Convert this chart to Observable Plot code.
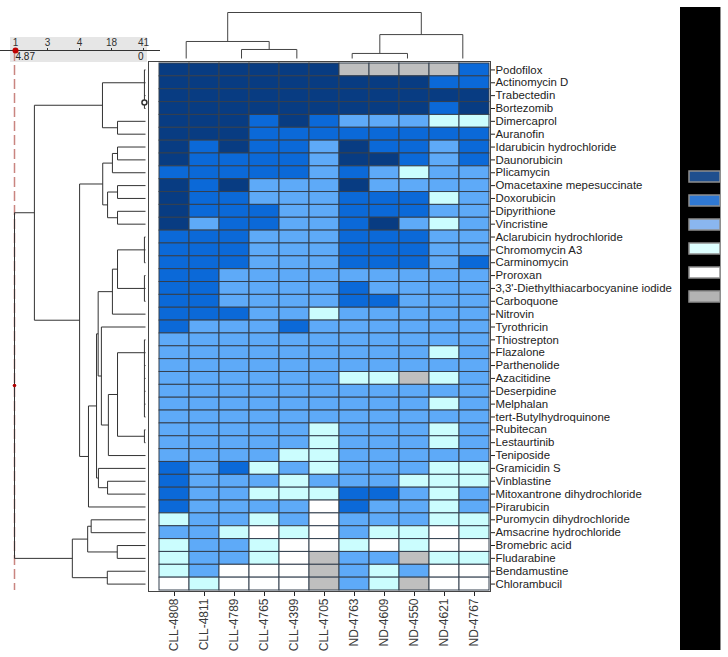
<!DOCTYPE html>
<html><head><meta charset="utf-8">
<script src="https://cdn.jsdelivr.net/npm/d3@7"></script>
<script src="https://cdn.jsdelivr.net/npm/@observablehq/plot@0.6"></script>
<style>
body{margin:0;background:#fff;}
#chart{position:relative;width:728px;height:657px;overflow:hidden;font-family:"Liberation Sans",Arial,sans-serif;}
#chart svg{position:absolute;left:0;top:0;}
#panel{position:absolute;left:680px;top:7px;width:40px;height:643px;background:#000;border-right:1px solid #8c8c8c;}
#scalebox{position:absolute;left:10px;top:37px;width:137px;height:25px;background:#e6e6e6;}
#chart svg.heatsvg g[aria-label^="x-axis"] text{font-size:12px;fill:#3a3a3a;}
</style></head><body>
<div id="chart"><div id="panel"></div><div id="scalebox"></div></div>
<script>
// ---------- data ----------
const samples = ["CLL-4808","CLL-4811","CLL-4789","CLL-4765","CLL-4399","CLL-4705","ND-4763","ND-4609","ND-4550","ND-4621","ND-4767"];
const drugs = ["Podofilox","Actinomycin D","Trabectedin","Bortezomib","Dimercaprol","Auranofin","Idarubicin hydrochloride","Daunorubicin","Plicamycin","Omacetaxine mepesuccinate","Doxorubicin","Dipyrithione","Vincristine","Aclarubicin hydrochloride","Chromomycin A3","Carminomycin","Proroxan","3,3'-Diethylthiacarbocyanine iodide","Carboquone","Nitrovin","Tyrothricin","Thiostrepton","Flazalone","Parthenolide","Azacitidine","Deserpidine","Melphalan","tert-Butylhydroquinone","Rubitecan","Lestaurtinib","Teniposide","Gramicidin S","Vinblastine","Mitoxantrone dihydrochloride","Pirarubicin","Puromycin dihydrochloride","Amsacrine hydrochloride","Bromebric acid","Fludarabine","Bendamustine","Chlorambucil"];
// response class per drug (row) and sample (column): D dark, M medium, L light, V very light, W white, G missing
const responseRows = [
"DDDDDDGGGGM","DDDDDDDDDMM","DDDDDDDDDDD","DDDDDDDDDMD","DDDMDMLLLVV","DDDMMMMMMMM",
"DMDMMLDMMLM","DMMMMLDDMLM","MMMMMLMLVLL","DMDLLLDLLLL","DMMLLLMMMVL","DMMMLLMMMLL",
"DLMMLLMDLVL","MMMLLLMMMLL","MMMLLLMMMLL","MMMLLLMMMLM","MMLLLLLLLLL","MMLLLLMLLLL",
"MMLLLLMMLLL","MMMLLVLLLLL","MLLLMLLLLLL","LLLLLLLLLLL","LLLLLLLLLVL","LLLLLLLLLLL",
"LLLLLLVVGVL","LLLLLLLLLLL","LLLLLLLLLVL","LLLLLLLLLLL","LLLLLVLLLVL","LLLLLVLLLVL",
"LLLLVVLLLLL","MLMVLVLLLVV","MLLLVLLLVVV","MLLVVVMMLVL","MLLLLWMLLVL","VLLVLWLLLVV",
"LLVWVWLVVWV","VLLVWWVWVWW","VLLVWGLLGVV","VLWWWGLVLWW","WVWWWGLVGWW"];
const levels = ["D","M","L","V","W","G"];
const levelColors = ["#083c82","#0b69d8","#5eaaf8","#cbfdfe","#ffffff","#bfbfbf"];
const legendColors = ["#1f4f8e","#2f78d2","#8ab6ef","#ddfefe","#ffffff","#b3b3b3"];

// row dendrogram: flat clusters [id, members, height, anchor] and merges [id, a, b, height]
const rowFlat = [
 ["A", ["Podofilox","Actinomycin D","Trabectedin","Bortezomib"], 0.04, "Actinomycin D"],
 ["I", ["Aclarubicin hydrochloride","Chromomycin A3","Carminomycin"], 0.04, "Chromomycin A3"],
 ["J", ["Proroxan","3,3'-Diethylthiacarbocyanine iodide","Carboquone"], 0.04, "3,3'-Diethylthiacarbocyanine iodide"],
 ["M", ["Thiostrepton","Flazalone","Parthenolide","Azacitidine","Deserpidine","Melphalan","tert-Butylhydroquinone"], 0.04, "Flazalone"]
];
const rowMerges = [
 ["B","Dimercaprol","Auranofin",1.04],
 ["P1","A","B",1.60],
 ["C","Idarubicin hydrochloride","Daunorubicin",1.04],
 ["D","C","Plicamycin",1.23],
 ["E","Omacetaxine mepesuccinate","Doxorubicin",1.04],
 ["F","Dipyrithione","Vincristine",1.04],
 ["G","E","F",1.41],
 ["H","D","G",1.59],
 ["K","I","J",1.04],
 ["L","K","Nitrovin",1.23],
 ["N","Rubitecan","Lestaurtinib",0.04],
 ["O","M","N",1.04],
 ["P","O","Teniposide",1.38],
 ["Q","Tyrothricin","P",1.64],
 ["R","L","Q",1.76],
 ["S","Vinblastine","Mitoxantrone dihydrochloride",1.41],
 ["T","Gramicidin S","S",1.75],
 ["U","R","T",1.82],
 ["V","U","Pirarubicin",2.12],
 ["W","H","V",2.45],
 ["X","P1","W",4.13],
 ["Y","Puromycin dihydrochloride","Amsacrine hydrochloride",2.02],
 ["Z","Bromebric acid","Fludarabine",1.05],
 ["AA","Y","Z",2.15],
 ["AB","Bendamustine","Chlorambucil",1.42],
 ["AC","AA","AB",2.72],
 ["root","X","AC",4.87]
];
const rootHeight = 4.87;
const leafHeight = 0;
const clusterCounts = ["1","3","4","18","41"];

// column dendrogram
const colLeaves = ["n1","n2","n3","n4","n5","n6"];
const colMerges = [
 ["bc","n2","n3",0.196],
 ["abc","n1","bc",0.37],
 ["de","n4","n5",0.11],
 ["def","de","n6",0.52],
 ["root","abc","def",1.0]
];

// ---------- helpers ----------
function buildTree(leafNames, flats, merges) {
  const node = new Map();
  leafNames.forEach((n, i) => node.set(n, {pos: i, h: 0}));
  const segs = [];
  for (const [id, members, h, anchor] of flats) {
    const idx = members.map(m => node.get(m).pos);
    for (const p of idx) segs.push({h1: 0, h2: h, p1: p, p2: p});
    const lo = Math.min(...idx), hi = Math.max(...idx);
    segs.push({h1: h, h2: h, p1: lo, p2: hi});
    node.set(id, {pos: anchor ? node.get(anchor).pos : (lo + hi) / 2, h});
  }
  for (const [id, a, b, h] of merges) {
    const A = node.get(a), B = node.get(b);
    segs.push({h1: A.h, h2: h, p1: A.pos, p2: A.pos});
    segs.push({h1: B.h, h2: h, p1: B.pos, p2: B.pos});
    segs.push({h1: h, h2: h, p1: A.pos, p2: B.pos});
    node.set(id, {pos: (A.pos + B.pos) / 2, h});
  }
  return {segs, node};
}

const chart = document.getElementById("chart");
const font = "'Liberation Sans', Arial, sans-serif";
function place(svg, cls) { if (cls) svg.classList.add(cls); chart.appendChild(svg); }

// ---------- heatmap ----------
const cells = drugs.flatMap((d, i) => samples.map((s, j) => ({drug: d, sample: s, level: responseRows[i][j]})));
const heat = Plot.plot({
  width: 728, height: 657,
  marginLeft: 148, marginRight: 238, marginTop: 61, marginBottom: 66,
  x: {type: "band", domain: samples, range: [158, 490], padding: 0, axis: "bottom", tickRotate: -90, tickSize: 5, tickPadding: 2, label: null},
  y: {type: "band", domain: drugs, range: [63, 590], padding: 0, axis: "right", tickSize: 4, tickPadding: 1, label: null},
  color: {type: "ordinal", domain: levels, range: levelColors},
  style: {background: "transparent", fontSize: "11.4px", fontFamily: font, color: "#222"},
  marks: [
    Plot.cell(cells, {x: "sample", y: "drug", fill: "level", stroke: "#34404f", strokeWidth: 1}),
    Plot.frame({stroke: "#444"})
  ]
});
place(heat, "heatsvg");

// ---------- row dendrogram ----------
const rowTree = buildTree(drugs, rowFlat, rowMerges);
const rootNode = rowTree.node.get("root");
const rowDend = Plot.plot({
  width: 148, height: 657,
  marginLeft: 0, marginRight: 0, marginTop: 51, marginBottom: 67,
  x: {type: "linear", domain: [rootHeight, leafHeight], range: [14, 145], axis: null},
  y: {type: "linear", domain: [0, drugs.length - 1], range: [69.4, 583.6], axis: null},
  style: {background: "transparent", fontSize: "10px", fontFamily: font, color: "#333"},
  marks: [
    Plot.ruleX([rootHeight], {stroke: "#c98580", strokeWidth: 1.5, strokeDasharray: "10,4"}),
    Plot.link(rowTree.segs, {x1: "h1", x2: "h2", y1: "p1", y2: "p2", stroke: "#333", strokeWidth: 1}),
    Plot.dot([rootNode], {x: "h", y: "pos", r: 1.8, fill: "#b00000", stroke: "none"}),
    Plot.dot([rowTree.node.get("Bortezomib")], {x: () => 0.04, y: "pos", dy: -6, r: 2.5, fill: "white", stroke: "#333"}),
    Plot.text([rootHeight], {x: d => d, text: d => String(d), frameAnchor: "top", lineAnchor: "top", dy: 1, dx: 1, textAnchor: "start", fill: "#222"}),
    Plot.text([leafHeight], {x: d => d, text: d => String(d), frameAnchor: "top", lineAnchor: "top", dy: 1, dx: -2, textAnchor: "end", fill: "#222"})
  ]
});
place(rowDend);

// ---------- scale bar (cluster counts) ----------
const scaleBar = Plot.plot({
  width: 160, height: 70,
  marginLeft: 0, marginRight: 0, marginTop: 50, marginBottom: 19,
  x: {type: "point", domain: clusterCounts, range: [14, 143], padding: 0, axis: "top", tickSize: 3, tickPadding: 2, line: true, label: null},
  style: {background: "transparent", fontSize: "10px", fontFamily: font, color: "#333"},
  marks: [
    Plot.dot([clusterCounts[0]], {x: d => d, frameAnchor: "top", r: 3, fill: "#c00000", stroke: "none"})
  ]
});
place(scaleBar);

// ---------- column dendrogram ----------
const colTree = buildTree(colLeaves, [], colMerges);
const colDend = Plot.plot({
  width: 728, height: 62, margin: 0,
  x: {type: "linear", domain: [0, colLeaves.length - 1], range: [185.7, 462.3], axis: null},
  y: {type: "linear", domain: [0, 1], range: [58, 12], axis: null},
  style: {background: "transparent"},
  marks: [
    Plot.link(colTree.segs, {x1: "p1", x2: "p2", y1: "h1", y2: "h2", stroke: "#444", strokeWidth: 1})
  ]
});
place(colDend);

// ---------- legend ----------
const legendPlot = Plot.plot({
  width: 48, height: 657, margin: 0,
  x: {type: "band", domain: ["swatch"], range: [9, 40], padding: 0, axis: null},
  y: {type: "band", domain: levels, range: [170, 303], paddingInner: 0.55, paddingOuter: 0, axis: null},
  color: {type: "ordinal", domain: levels, range: legendColors},
  style: {background: "transparent"},
  marks: [
    Plot.cell(levels, {x: () => "swatch", y: d => d, fill: d => d, stroke: "#8e8e8e", strokeWidth: 1.5})
  ]
});
place(legendPlot);
legendPlot.style.left = "680px";
</script>
</body></html>
